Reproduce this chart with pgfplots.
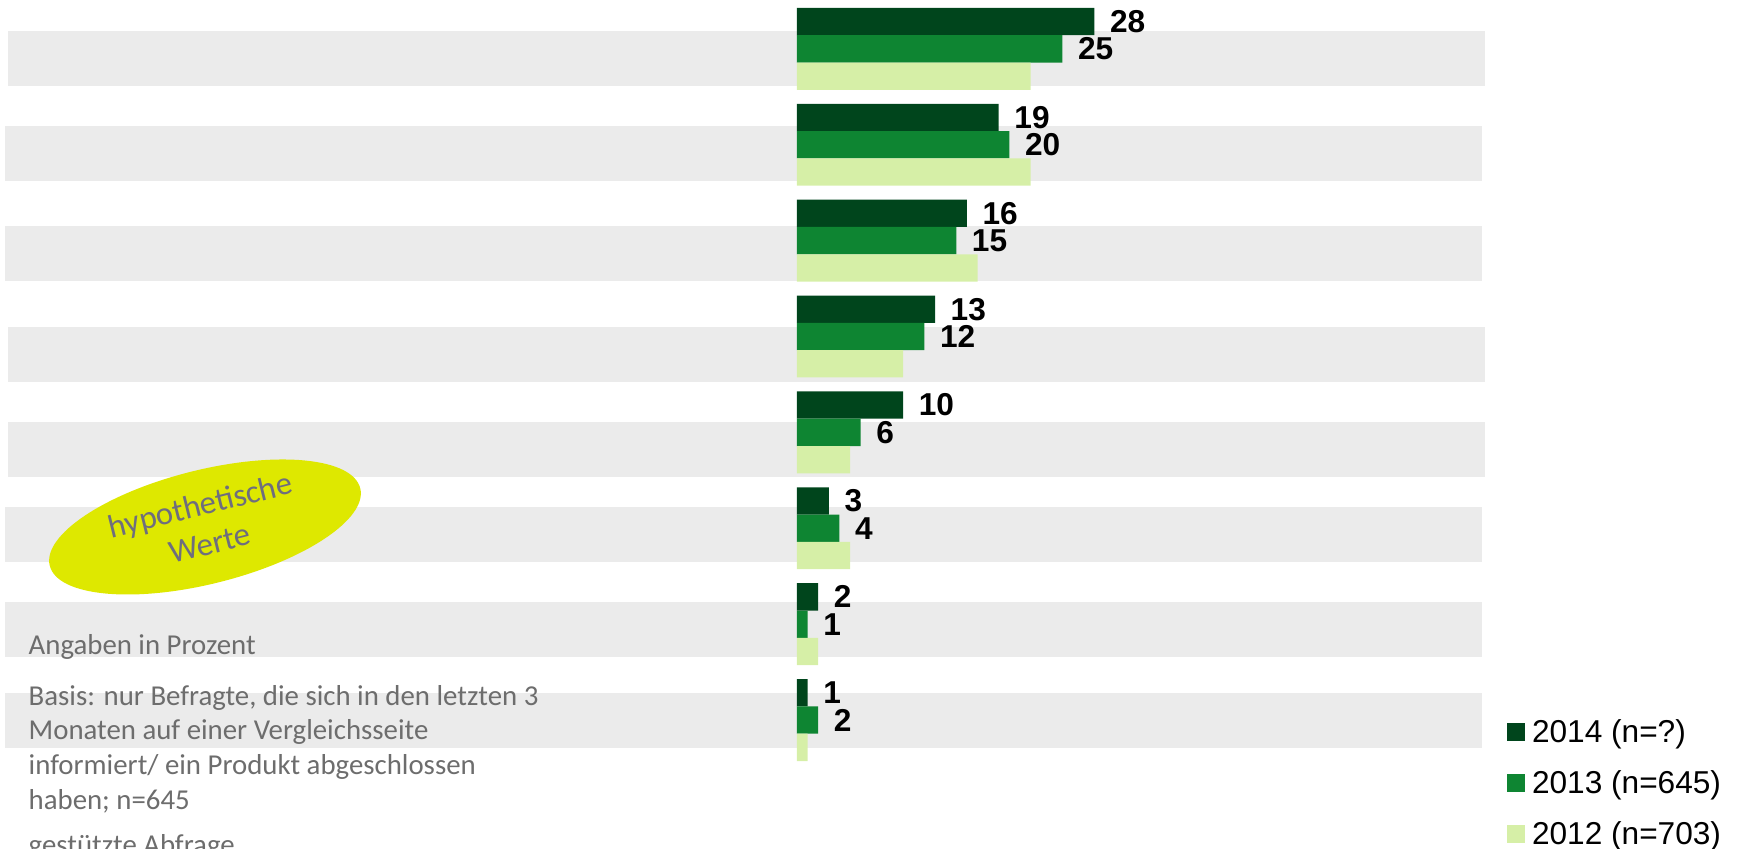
\documentclass[border=0pt]{standalone}
\usepackage{fontspec}
\setmainfont{Liberation Sans}
\newfontfamily\carlito{Carlito}
\usepackage{pgfplots}
\pgfplotsset{compat=1.18}
\definecolor{c14}{HTML}{00451C}
\definecolor{c13}{HTML}{0E8532}
\definecolor{c12}{HTML}{D6EFA7}
\definecolor{cBand}{HTML}{EBEBEB}
\definecolor{cEllipse}{HTML}{DEE800}
\definecolor{cEllText}{HTML}{6E6E7E}
\definecolor{cNote}{HTML}{6D6D6D}

\begin{document}
\begin{tikzpicture}
% grey label bands behind the bars (the category labels are blank)
\fill[cBand] (0.8mm,76.3mm) rectangle (148.5mm,81.8mm);
\fill[cBand] (0.5mm,66.8mm) rectangle (148.2mm,72.3mm);
\fill[cBand] (0.5mm,56.8mm) rectangle (148.2mm,62.3mm);
\fill[cBand] (0.8mm,46.7mm) rectangle (148.5mm,52.2mm);
\fill[cBand] (0.8mm,37.2mm) rectangle (148.5mm,42.7mm);
\fill[cBand] (0.5mm,28.7mm) rectangle (148.2mm,34.2mm);
\fill[cBand] (0.5mm,19.2mm) rectangle (148.2mm,24.7mm);
\fill[cBand] (0.5mm,10.1mm) rectangle (148.2mm,15.6mm);

\begin{axis}[
    at={(0,0)}, anchor=south west,
    scale only axis,
    width=173.7mm, height=84.9mm,
    xmin=-75.06, xmax=88.53,
    ymin=0.4905, ymax=9.345,
    y dir=reverse,
    hide axis,
    clip=false,
    xbar,
    bar width=0.2848,
    /pgf/number format/assume math mode=true,
    nodes near coords style={anchor=west, inner sep=0pt, xshift=1.5mm,
        font=\fontsize{9}{10}\selectfont\bfseries, text=black},
    legend style={draw=none, fill=none, inner sep=0pt, outer sep=0pt,
        at={(axis description cs:0.8676,0.1552)}, anchor=north west,
        font=\fontsize{9}{10}\selectfont,
        row sep=1.8mm, column sep=0.7mm,
        nodes={inner sep=0pt, text height=2.5mm, text depth=0.8mm}},
    legend cell align=left,
    legend image code/.code={\fill[#1] (0mm,-0.7mm) rectangle (1.8mm,1.1mm);},
]
\addplot[fill=c14, draw=none, bar shift=-0.2848, nodes near coords]
    coordinates {(28,1) (19,2) (16,3) (13,4) (10,5) (3,6) (2,7) (1,8)};
\addlegendentry{2014 (n=?)}
\addplot[fill=c13, draw=none, bar shift=0, nodes near coords]
    coordinates {(25,1) (20,2) (15,3) (12,4) (6,5) (4,6) (1,7) (2,8)};
\addlegendentry{2013 (n=645)}
\addplot[fill=c12, draw=none, bar shift=0.2848]
    coordinates {(22,1) (22,2) (17,3) (10,4) (5,5) (5,6) (2,7) (1,8)};
\addlegendentry{2012 (n=703)}
\end{axis}

% "hypothetische Werte" sticker
\fill[cEllipse, rotate around={14:(20.5mm,32.2mm)}] (20.5mm,32.2mm) ellipse (16mm and 5.7mm);
\node[rotate=14, align=center, text=cEllText, inner sep=0pt,
      font=\carlito\fontsize{9.3}{11.2}\selectfont] at (20.5mm,32.5mm) {hypothetische\\Werte};

% notes
\begin{scope}[every node/.style={anchor=base west, inner sep=0pt, text=cNote,
      font=\carlito\fontsize{8.2}{9.8}\selectfont}]
\node at (2.8mm,19.4mm) {Angaben in Prozent};
\node at (2.8mm,14.3mm) {Basis: nur Befragte, die sich in den letzten 3};
\node at (2.8mm,10.9mm) {Monaten auf einer Vergleichsseite};
\node at (2.8mm,7.4mm) {informiert/ ein Produkt abgeschlossen};
\node at (2.8mm,3.9mm) {haben; n=645};
\node at (2.8mm,-0.6mm) {gestützte Abfrage};
\end{scope}

\pgfresetboundingbox
\path[use as bounding box] (0,0) rectangle (173.7mm,84.9mm);
\end{tikzpicture}
\end{document}
